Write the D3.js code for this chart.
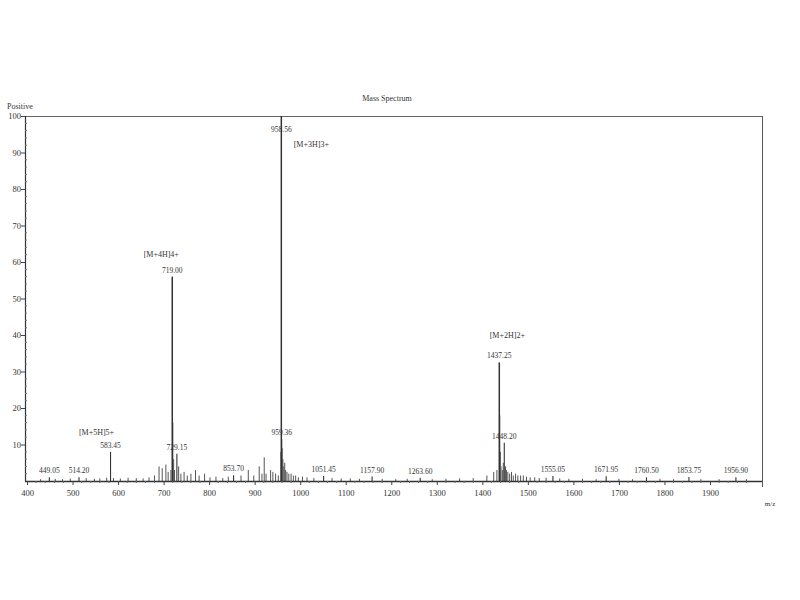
<!DOCTYPE html>
<html><head><meta charset="utf-8">
<script src="https://cdn.jsdelivr.net/npm/d3@7"></script>
<style>
html,body{margin:0;padding:0;background:#fff;overflow:hidden;}
svg{display:block;}
svg text{font-family:"Liberation Serif","DejaVu Serif",serif;fill:#333;}
</style></head>
<body>
<svg id="c" width="800" height="600"></svg>
<script>
// ---- data ----
const xTicks = [400,500,600,700,800,900,1000,1100,1200,1300,1400,1500,1600,1700,1800,1900];
const yTicks = [10,20,30,40,50,60,70,80,90,100];
const annotMz = [449.05,514.20,583.45,719.00,729.15,853.70,958.56,959.36,1051.45,1157.90,1263.60,1437.25,1448.20,1555.05,1671.95,1760.50,1853.75,1956.90];
const annotIntensity = [1.0,1.0,8.0,56.0,7.5,1.6,100,11.5,1.4,1.2,0.9,32.5,10.5,1.4,1.3,1.0,1.1,1.0];
const ionMz = [583.45,719.00,958.56,1437.25];
const ionLabels = ["[M+5H]5+","[M+4H]4+","[M+3H]3+","[M+2H]2+"];
const minorMz = [430,462,478,495,530,548,560,575,590,605,622,640,655,668,680,690,697,705,710,716,720.3,722,724,733,738,745,752,760,770,778,790,802,815,830,842,870,886,898,910,916,921,925,935,940,946,952,957.6,960.4,962,964,966,968,971,975,980,985,990,996,1005,1015,1030,1070,1090,1110,1130,1180,1210,1235,1290,1320,1350,1380,1410,1425,1432,1438.1,1439.6,1441,1444,1446,1451,1453,1456,1460,1464,1468,1473,1478,1484,1490,1497,1505,1515,1525,1540,1570,1590,1620,1650,1700,1730,1790,1820,1880,1920,1980];
const minorIntensity = [0.5,0.6,0.5,0.7,0.8,0.6,0.7,0.9,0.8,0.7,0.9,0.8,0.7,1.0,1.5,4.0,3.5,4.5,2.5,3.0,16,6.0,3.0,4.0,2.0,2.5,1.5,2.0,3.0,1.5,2.0,1.0,1.2,0.8,1.2,1.5,3.0,1.5,4.0,2.0,6.5,2.0,3.0,2.5,2.0,1.5,8.0,9.0,6.0,4.0,5.0,3.0,2.5,2.0,2.0,1.5,1.5,1.0,1.2,1.0,0.8,0.8,0.7,0.7,0.6,0.6,0.5,0.6,0.5,0.6,0.7,0.8,1.5,2.5,3.0,18,8.0,4.0,3.0,5.0,4.0,3.0,2.5,2.0,2.5,1.5,2.0,1.5,1.5,1.5,1.2,1.0,1.0,0.8,0.9,0.7,0.6,0.6,0.5,0.6,0.5,0.6,0.5,0.5,0.5,0.5];

// ---- layout ----
const svg = d3.select("#c");
svg.append("rect").attr("width",800).attr("height",600).attr("fill","#fff");
const x = d3.scaleLinear().domain([400,1900]).range([27,710]);
const y = d3.scaleLinear().domain([0,100]).range([481,116]);
const xEnd = 762;

// frame: top line and right line
svg.append("path").attr("d",`M25,116.5H${xEnd}`).attr("stroke","#666").attr("stroke-width",1.2).attr("fill","none");
svg.append("path").attr("d",`M${xEnd}.5,116V487`).attr("stroke","#555").attr("stroke-width",1).attr("fill","none");

// minor peaks
const minor = minorMz.map((m,i)=>({mz:m,v:minorIntensity[i]})).filter(d=>d.v!==undefined);
svg.append("g").attr("class","minor").selectAll("line").data(minor).join("line")
  .attr("x1",d=>x(d.mz)).attr("x2",d=>x(d.mz))
  .attr("y1",y(0)).attr("y2",d=>y(d.v))
  .attr("stroke",d=>d.v>10?"#999":"#555").attr("stroke-width",d=>d.v>10?1.5:1);

// annotated peaks
const annot = annotMz.map((m,i)=>({mz:m,v:annotIntensity[i]}));
svg.append("g").attr("class","annot").selectAll("line").data(annot).join("line")
  .attr("x1",d=>x(d.mz)).attr("x2",d=>x(d.mz))
  .attr("y1",y(0)).attr("y2",d=>y(d.v))
  .attr("stroke","#333").attr("stroke-width",d=>d.v>20?1.5:1.1);

// x axis
const xAxis = d3.axisBottom(x).tickValues(xTicks).tickSize(4).tickFormat(d3.format("d"));
const gx = svg.append("g").attr("transform",`translate(0,${y(0)})`).call(xAxis);
gx.select(".domain").attr("d",`M25,0.5H${xEnd}`).attr("stroke","#333").attr("stroke-width",1.3);
gx.selectAll(".tick line").attr("stroke","#444");
gx.selectAll("text").attr("font-size",8.5).attr("dy","0.9em");
// x minor ticks
svg.append("g").attr("class","xminor").selectAll("line").data(d3.range(420,2000,20).filter(v=>v%100!==0)).join("line")
  .attr("x1",d=>x(d)).attr("x2",d=>x(d)).attr("y1",y(0)).attr("y2",y(0)+2)
  .attr("stroke","#666");

// y axis
const yAxis = d3.axisLeft(y).tickValues(yTicks).tickSize(4).tickFormat(d3.format("d"));
const gy = svg.append("g").attr("transform","translate(25,0)").call(yAxis);
gy.select(".domain").attr("d",`M0.5,116V481`).attr("stroke","#333").attr("stroke-width",1.2);
gy.selectAll(".tick line").attr("stroke","#444");
gy.selectAll("text").attr("font-size",8.5).attr("x",-4);
svg.append("g").attr("class","yminor").selectAll("line").data(d3.range(2,100,2).filter(v=>v%10!==0)).join("line")
  .attr("x1",25).attr("x2",27).attr("y1",d=>y(d)).attr("y2",d=>y(d))
  .attr("stroke","#777");

// peak labels
svg.append("g").attr("class","plabels").selectAll("text").data(annot).join("text")
  .attr("x",d=>x(d.mz))
  .attr("y",d=>d.v>=99?y(d.v)+16:y(d.v)-4)
  .attr("text-anchor","middle").attr("font-size",7.5)
  .text(d=>d.mz.toFixed(2));

// ion labels (placement offsets relative to peak label)
const ionOffset = {"583.45":[-14,-13],"719.00":[-11,-16],"958.56":[30,15],"1437.25":[8,-20]};
const ions = ionMz.map((m,i)=>({mz:m,label:ionLabels[i],v:annotIntensity[annotMz.indexOf(m)]}));
svg.append("g").attr("class","ions").selectAll("text").data(ions).join("text")
  .attr("x",d=>x(d.mz)+ionOffset[d.mz.toFixed(2)][0])
  .attr("y",d=>(d.v>=99?y(d.v)+16:y(d.v)-4)+ionOffset[d.mz.toFixed(2)][1])
  .attr("text-anchor","middle").attr("font-size",8)
  .text(d=>d.label);

// titles
svg.append("text").attr("x",387).attr("y",101).attr("text-anchor","middle").attr("font-size",8).text("Mass Spectrum");
svg.append("text").attr("x",7).attr("y",109).attr("font-size",8).text("Positive");
svg.append("text").attr("x",770).attr("y",506).attr("text-anchor","middle").attr("font-size",7).text("m/z");
</script>
</body></html>
